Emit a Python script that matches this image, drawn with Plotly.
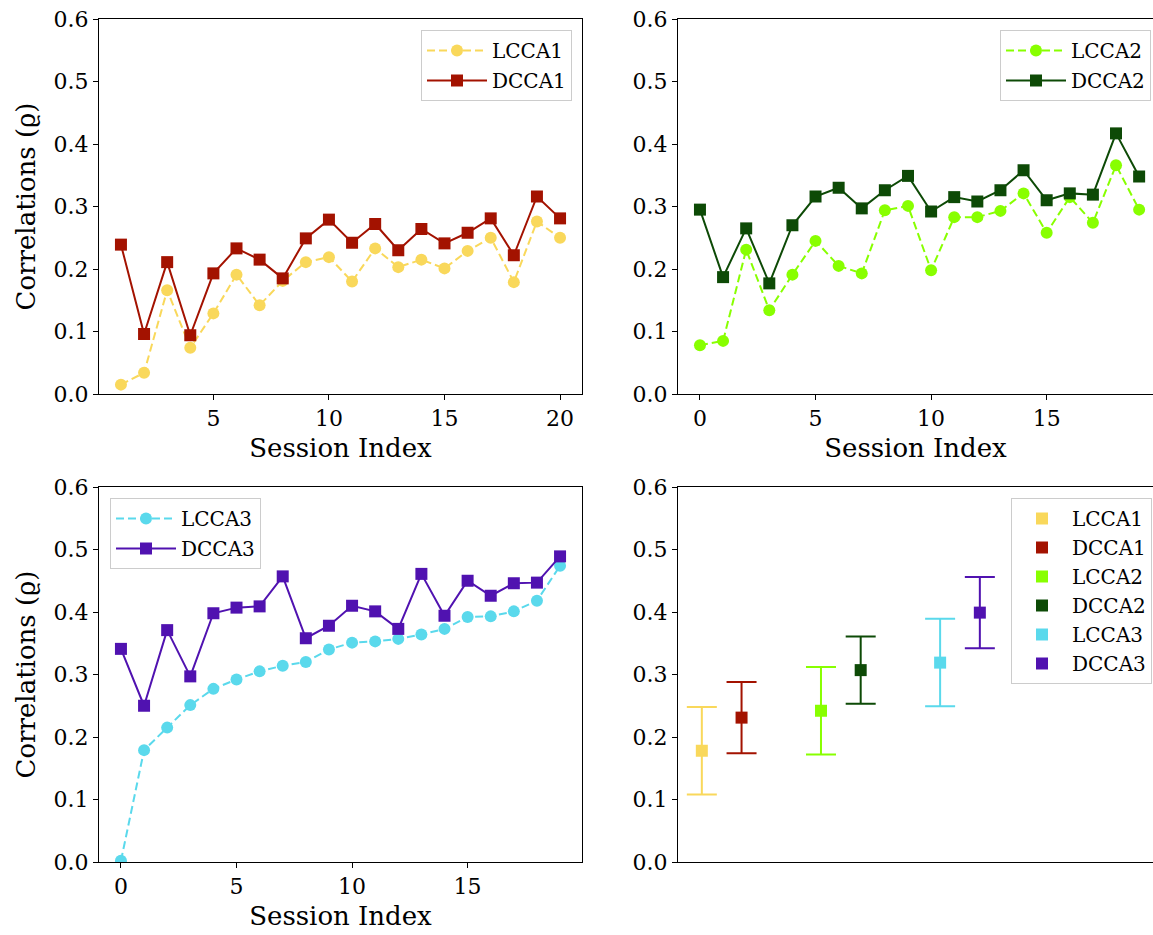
import plotly.graph_objects as go

# ---------------- data ----------------
sessions_1 = list(range(1, 21))
sessions_23 = list(range(0, 20))

lcca1 = [0.015, 0.034, 0.166, 0.074, 0.129, 0.191, 0.142, 0.181, 0.211, 0.219,
         0.180, 0.233, 0.203, 0.215, 0.201, 0.229, 0.250, 0.179, 0.276, 0.250]
dcca1 = [0.239, 0.096, 0.211, 0.094, 0.193, 0.233, 0.215, 0.185, 0.249, 0.279,
         0.242, 0.272, 0.230, 0.264, 0.241, 0.258, 0.281, 0.222, 0.316, 0.281]

lcca2 = [0.078, 0.085, 0.231, 0.134, 0.191, 0.245, 0.205, 0.193, 0.294, 0.301,
         0.198, 0.283, 0.283, 0.293, 0.321, 0.258, 0.315, 0.274, 0.366, 0.295]
dcca2 = [0.295, 0.187, 0.265, 0.177, 0.270, 0.316, 0.330, 0.297, 0.326, 0.349,
         0.292, 0.315, 0.308, 0.326, 0.358, 0.310, 0.321, 0.319, 0.417, 0.348]

lcca3 = [0.002, 0.179, 0.215, 0.251, 0.277, 0.292, 0.305, 0.314, 0.320, 0.340,
         0.351, 0.353, 0.357, 0.364, 0.373, 0.392, 0.393, 0.401, 0.418, 0.474]
dcca3 = [0.341, 0.250, 0.371, 0.297, 0.398, 0.407, 0.409, 0.457, 0.358, 0.378,
         0.410, 0.401, 0.373, 0.461, 0.394, 0.450, 0.426, 0.446, 0.447, 0.489]

summary_names = ["LCCA1", "DCCA1", "LCCA2", "DCCA2", "LCCA3", "DCCA3"]
summary_means = [0.178, 0.231, 0.242, 0.307, 0.319, 0.399]
summary_stds = [0.070, 0.057, 0.070, 0.054, 0.070, 0.057]

y_ticks = [0.0, 0.1, 0.2, 0.3, 0.4, 0.5, 0.6]
y_tick_labels = ["0.0", "0.1", "0.2", "0.3", "0.4", "0.5", "0.6"]

# ---------------- styles ----------------
COLORS = {
    "LCCA1": "#F9D85B", "DCCA1": "#A31200",
    "LCCA2": "#88FF00", "DCCA2": "#0D4A06",
    "LCCA3": "#5AD9EC", "DCCA3": "#5012B0",
}
FONT = "DejaVu Serif"
W, H = 1153, 935

fig = go.Figure()


def add_pair(xs, lvals, dvals, lname, dname, xa, ya, legend):
    fig.add_trace(go.Scatter(
        x=xs, y=lvals, name=lname, mode="lines+markers",
        line=dict(color=COLORS[lname], width=2, dash="8px,4px"),
        marker=dict(symbol="circle", size=12, color=COLORS[lname]),
        xaxis=xa, yaxis=ya, legend=legend, legendgroup=lname))
    fig.add_trace(go.Scatter(
        x=xs, y=dvals, name=dname, mode="lines+markers",
        line=dict(color=COLORS[dname], width=2),
        marker=dict(symbol="square", size=12, color=COLORS[dname]),
        xaxis=xa, yaxis=ya, legend=legend, legendgroup=dname))


add_pair(sessions_1, lcca1, dcca1, "LCCA1", "DCCA1", "x", "y", "legend")
add_pair(sessions_23, lcca2, dcca2, "LCCA2", "DCCA2", "x2", "y2", "legend2")
add_pair(sessions_23, lcca3, dcca3, "LCCA3", "DCCA3", "x3", "y3", "legend3")

for i, (name, m, s) in enumerate(zip(summary_names, summary_means, summary_stds)):
    xpos = 3 * (i // 2) + (i % 2)
    fig.add_trace(go.Scatter(
        x=[xpos], y=[m], name=name, mode="markers",
        marker=dict(symbol="square", size=12, color=COLORS[name]),
        error_y=dict(type="data", array=[s], visible=True, color=COLORS[name],
                     thickness=2, width=15),
        xaxis="x4", yaxis="y4", legend="legend4", legendgroup=name))

# ---------------- layout ----------------
def px_x(p):
    return p / W


def px_y(p):
    return 1 - p / H


dom_x_left = [px_x(99), px_x(582)]
dom_x_right = [px_x(678), 1.0]
dom_y_top = [px_y(394), px_y(19)]
dom_y_bot = [px_y(862), px_y(487)]

axis_common = dict(showline=True, linecolor="black", linewidth=1,
                   ticks="outside", ticklen=5, tickcolor="black",
                   showgrid=False, zeroline=False, automargin=False,
                   tickfont=dict(family=FONT, size=22, color="black"))

title_font = dict(family=FONT, size=26, color="black")

fig.update_layout(
    width=W, height=H,
    margin=dict(l=0, r=0, t=0, b=0, autoexpand=False),
    paper_bgcolor="white", plot_bgcolor="white",
    font=dict(family=FONT, color="black"),
    xaxis=dict(domain=dom_x_left, anchor="y", range=[0.05, 20.95],
               tickvals=[5, 10, 15, 20], mirror=True,
               title=dict(text="Session Index", font=title_font, standoff=8),
               **axis_common),
    yaxis=dict(domain=dom_y_top, anchor="x", range=[0, 0.6],
               tickvals=y_ticks, ticktext=y_tick_labels, mirror=True,
               title=dict(text="Correlations (ϱ)", font=title_font, standoff=10),
               **axis_common),
    xaxis2=dict(domain=dom_x_right, anchor="y2", range=[-0.95, 19.6],
                tickvals=[0, 5, 10, 15], mirror=True,
                title=dict(text="Session Index", font=title_font, standoff=8),
                **axis_common),
    yaxis2=dict(domain=dom_y_top, anchor="x2", range=[0, 0.6],
                tickvals=y_ticks, ticktext=y_tick_labels, mirror=False,
                **axis_common),
    xaxis3=dict(domain=dom_x_left, anchor="y3", range=[-0.95, 19.95],
                tickvals=[0, 5, 10, 15], mirror=True,
                title=dict(text="Session Index", font=title_font, standoff=8),
                **axis_common),
    yaxis3=dict(domain=dom_y_bot, anchor="x3", range=[0, 0.6],
                tickvals=y_ticks, ticktext=y_tick_labels, mirror=True,
                title=dict(text="Correlations (ϱ)", font=title_font, standoff=10),
                **axis_common),
    xaxis4=dict(domain=dom_x_right, anchor="y4", range=[-0.6, 11.36],
                showline=True, linecolor="black", linewidth=1, mirror=True,
                showticklabels=False, ticks="", showgrid=False, zeroline=False,
                automargin=False),
    yaxis4=dict(domain=dom_y_bot, anchor="x4", range=[0, 0.6],
                tickvals=y_ticks, ticktext=y_tick_labels, mirror=False,
                **axis_common),
)

legend_common = dict(bgcolor="rgba(255,255,255,0.8)", bordercolor="#cccccc",
                     borderwidth=1, font=dict(family=FONT, size=20, color="black"),
                     xanchor="right", yanchor="top", traceorder="grouped",
                     tracegroupgap=1, itemwidth=60)
fig.update_layout(
    legend=dict(x=px_x(572), y=px_y(30), **legend_common),
    legend2=dict(x=px_x(1151), y=px_y(30), **legend_common),
    legend3=dict(x=px_x(261), y=px_y(498), **legend_common),
    legend4=dict(x=px_x(1152), y=px_y(498),
                 **{**legend_common, "tracegroupgap": 0, "itemwidth": 50}),
)

fig.write_html("out.html")
